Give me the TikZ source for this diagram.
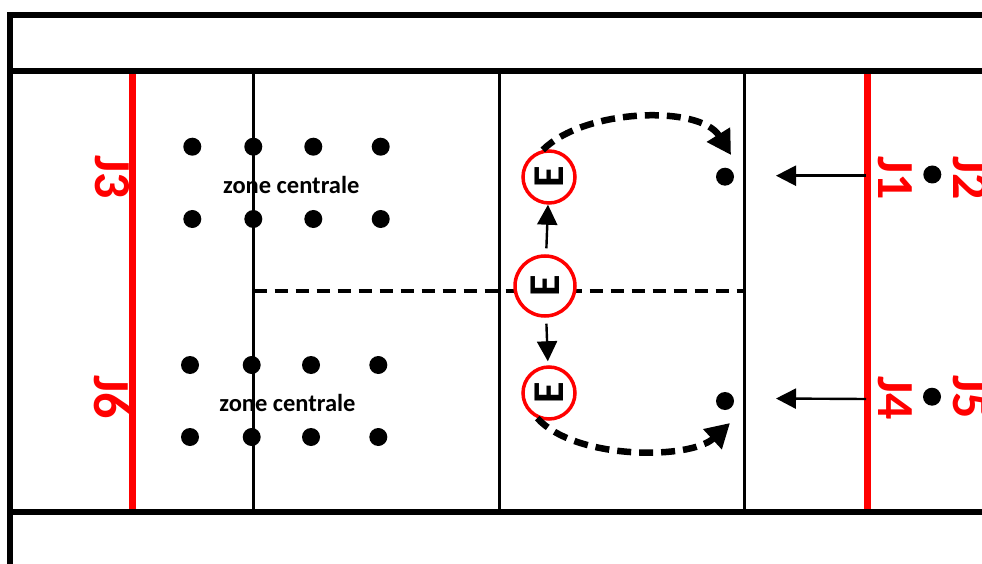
\documentclass[tikz,border=0pt]{standalone}
\usepackage{fontspec}
\setmainfont{Carlito}
\usetikzlibrary{arrows.meta}
\definecolor{jred}{RGB}{255,0,0}
\tikzset{
  frame/.style={line width=6pt,black},
  redline/.style={line width=7pt,jred},
  zoneline/.style={line width=3.5pt,black},
  midline/.style={line width=3.2pt,black,dash pattern=on 13pt off 8pt},
  dot/.style={circle,fill=black,inner sep=0pt,minimum size=18pt},
  jlab/.style={text=jred,font=\fontsize{52}{52}\selectfont\bfseries,rotate=-90,inner sep=0pt},
  zlab/.style={font=\fontsize{24.5}{24.5}\selectfont\bfseries,inner sep=0pt},
  ecirc/.style={circle,draw=jred,line width=3.5pt,fill=white,inner sep=0pt,minimum size=#1,
     font=\fontsize{44}{44}\selectfont\bfseries},
  ecirc/.default=52pt,
  moveto/.style={-{Triangle[length=20pt,width=20pt]},line width=2.4pt,black},
  pass/.style={-{Triangle[length=24pt,width=26pt]},line width=6.5pt,black,dash pattern=on 14pt off 8pt}
}
\begin{document}
\begin{tikzpicture}[x=1pt,y=-1pt]
\useasboundingbox (0,0) rectangle (982,564);
% frame
\coordinate (tl) at (10,15);
\coordinate (tr) at (985,15);
\coordinate (bl) at (10,570);
\coordinate (ml) at (10,71.5);
\coordinate (mr) at (985,71.5);
\coordinate (ll) at (10,511.5);
\coordinate (lr) at (985,511.5);
\draw[frame,line cap=rect] (tr) -- (tl) -- (bl);
\draw[frame] (ml) -- (mr);
\draw[frame] (ll) -- (lr);
% red lines
\coordinate (r1t) at (132.5,74);
\coordinate (r1b) at (132.5,509);
\coordinate (r2t) at (867.5,74);
\coordinate (r2b) at (867.5,509);
\draw[redline] (r1t) -- (r1b);
\draw[redline] (r2t) -- (r2b);
% zone lines
\foreach \n/\x in {a/253.5,b/499.5,c/744.5}{
  \coordinate (z\n t) at (\x,74);
  \coordinate (z\n b) at (\x,509);
  \draw[zoneline] (z\n t) -- (z\n b);
}
\coordinate (mdl) at (253.5,291);
\coordinate (mdr) at (744.5,291);
\draw[midline] (mdl) -- (mdr);
% dots, top group
\foreach \i/\x in {1/192.3,2/253.3,3/313.3,4/380.7}{
  \node[dot] (ta\i) at (\x,146.7) {};
  \node[dot] (tb\i) at (\x,219) {};
}
\foreach \i/\x in {1/190,2/251.7,3/311,4/378.3}{
  \node[dot] (ba\i) at (\x,365) {};
  \node[dot] (bb\i) at (\x,437) {};
}
\node[zlab] (zc1) at (291.3,185) {zone centrale};
\node[zlab] (zc2) at (287.5,403) {zone centrale};
% J labels
\node[jlab] (j3) at (112,177) {J3};
\node[jlab] (j6) at (112,397) {J6};
\node[jlab] (j1) at (895,178) {J1};
\node[jlab] (j4) at (895,398) {J4};
\node[jlab] (j2) at (970,178) {J2};
\node[jlab] (j5) at (970,397) {J5};
% players near J
\node[dot] (p1) at (932.3,174.5) {};
\node[dot] (p4) at (932,396.7) {};
% receivers
\node[dot] (d1) at (725,176.7) {};
\node[dot] (d2) at (725,401) {};
% E circles
\node[ecirc=60pt] (em) at (545,286) {\rotatebox{90}{E}};
\node[ecirc] (et) at (549,177) {\rotatebox{90}{E}};
\node[ecirc] (eb) at (549,393) {\rotatebox{90}{E}};
\draw[moveto,shorten <=6pt] (em) -- (et);
\draw[moveto,shorten <=6pt,shorten >=4pt] (em) -- (eb);
% arrows from red line
\coordinate (a1s) at (866,175.7);
\coordinate (a1e) at (776,175.7);
\coordinate (a4s) at (866,399);
\coordinate (a4e) at (776,398.5);
\draw[moveto] (a1s) -- (a1e);
\draw[moveto] (a4s) -- (a4e);
% passes
\coordinate (t1) at (731,155);
\coordinate (t2) at (730,423);
\draw[pass] (et.103) .. controls (585,108) and (700,105) .. (t1);
\draw[pass] (eb.-115) .. controls (575,460) and (690,460) .. (t2);
\end{tikzpicture}
\end{document}
